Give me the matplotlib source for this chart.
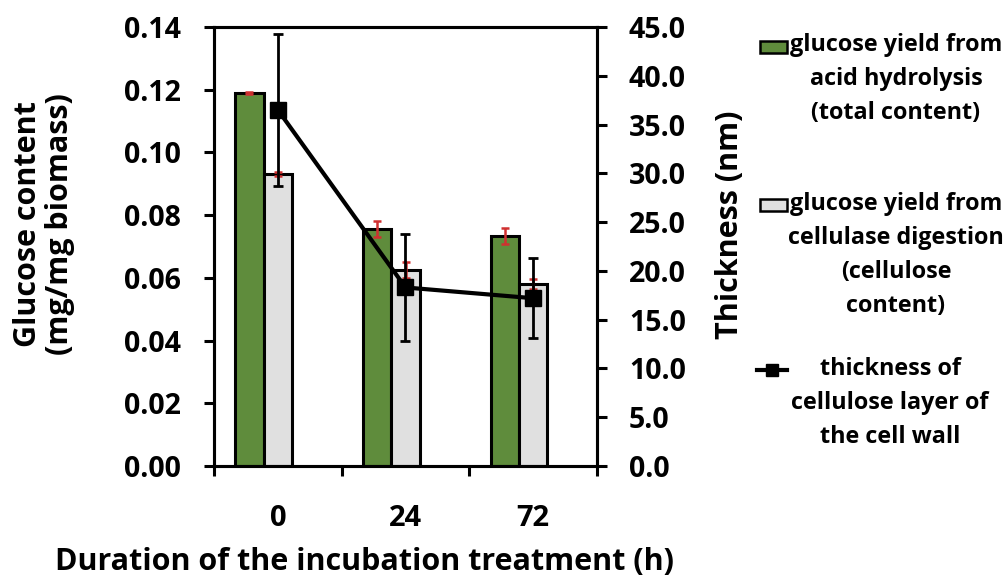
import matplotlib.pyplot as plt
import numpy as np
from matplotlib.patches import Rectangle
from matplotlib.lines import Line2D

# Data
hours = ['0', '24', '72']
acid_glucose = [0.119, 0.0755, 0.0733]
acid_err = [0.0003, 0.0025, 0.0025]
cellulase_glucose = [0.0931, 0.0625, 0.058]
cellulase_err = [0.0005, 0.0025, 0.0015]
thickness = [36.5, 18.3, 17.2]
thickness_err = [7.8, 5.5, 4.1]

plt.rcParams['font.family'] = ['Open Sans', 'DejaVu Sans']
plt.rcParams['font.weight'] = 'bold'

green = '#5f8c3c'
grey = '#e0e0e0'
lw = 2.2

fig = plt.figure(figsize=(10.07, 5.79), dpi=100)
ax = fig.add_axes([214 / 1007, 1 - 466 / 579, 383 / 1007, 439 / 579])

x = np.arange(len(hours))
w = 0.222
ax.bar(x - w, acid_glucose, w, color=green, edgecolor='black', linewidth=lw, zorder=2)
ax.errorbar(x - w, acid_glucose, yerr=acid_err, fmt='none', ecolor='#d03030',
            elinewidth=1.8, capsize=3, capthick=1.8, zorder=3)
ax.bar(x, cellulase_glucose, w, color=grey, edgecolor='black', linewidth=lw, zorder=2)
ax.errorbar(x, cellulase_glucose, yerr=cellulase_err, fmt='none', ecolor='#d03030',
            elinewidth=1.8, capsize=3, capthick=1.8, zorder=3)

ax.set_xlim(-0.5, 2.5)
ax.set_ylim(0, 0.14)
ax.set_yticks(np.arange(0, 0.141, 0.02))
ax.set_yticklabels([f'{v:.2f}' for v in np.arange(0, 0.141, 0.02)])
ax.set_xticks([-0.5, 0.5, 1.5, 2.5])
ax.set_xticklabels([])
ax.set_xticks(x, minor=True)
ax.set_xticklabels(hours, minor=True)
ax.tick_params(axis='x', which='major', direction='out', length=7, width=lw)
ax.tick_params(axis='x', which='minor', length=0, pad=27, labelsize=21)
ax.tick_params(axis='y', direction='out', length=7, width=lw, pad=17, labelsize=20.5)
for s in ax.spines.values():
    s.set_linewidth(lw)

ax2 = ax.twinx()
ax2.errorbar(x, thickness, yerr=thickness_err, color='black', marker='s', markersize=11,
             linewidth=3, elinewidth=2, capsize=3.5, capthick=2, zorder=4)
ax2.set_ylim(0, 45)
ax2.set_yticks(np.arange(0, 45.1, 5))
ax2.set_yticklabels([f'{v:.1f}' for v in np.arange(0, 45.1, 5)])
ax2.tick_params(axis='y', direction='out', length=7, width=lw, pad=16, labelsize=20.5)
for s in ax2.spines.values():
    s.set_linewidth(lw)

ax.set_ylabel('Glucose content\n(mg/mg biomass)', fontsize=22, fontweight='bold', linespacing=1.1)
ax.yaxis.set_label_coords(-0.444, 0.55)
ax.yaxis.label.set_va('center')
ax2.set_ylabel('Thickness (nm)', fontsize=22, fontweight='bold')
ax2.yaxis.set_label_coords(1.347, 0.55)
ax2.yaxis.label.set_va('center')
ax.set_xlabel('Duration of the incubation treatment (h)', fontsize=22, fontweight='bold')
ax.xaxis.set_label_coords(0.394, -0.219)
ax.xaxis.label.set_va('center')

# Legend drawn by hand to follow the reference layout
W, H = 1007, 579
def fx(px):
    return px / W
def fy(py):
    return 1 - py / H

fig.patches.append(Rectangle((fx(760), fy(53)), 27 / W, 12 / H, facecolor=green,
                             edgecolor='black', linewidth=1.8, transform=fig.transFigure))
fig.patches.append(Rectangle((fx(760), fy(211)), 27 / W, 12 / H, facecolor=grey,
                             edgecolor='black', linewidth=1.8, transform=fig.transFigure))
fig.lines.append(Line2D([fx(757), fx(787)], [fy(370), fy(370)], color='black', linewidth=3,
                        transform=fig.transFigure))
fig.lines.append(Line2D([fx(772)], [fy(370)], color='black', marker='s', markersize=9,
                        transform=fig.transFigure))

legend_labels = ['glucose yield from\nacid hydrolysis\n(total content)',
                 'glucose yield from\ncellulase digestion\n(cellulose\ncontent)',
                 'thickness of\ncellulose layer of\nthe cell wall']
legend_pos = [(896, 33), (896, 192), (890, 357)]
for lab, (px, py) in zip(legend_labels, legend_pos):
    fig.text(fx(px), fy(py), lab, ha='center', va='top', multialignment='center',
             fontsize=16.8, fontweight='bold', linespacing=1.55)

fig.savefig('out.png', dpi=100)
